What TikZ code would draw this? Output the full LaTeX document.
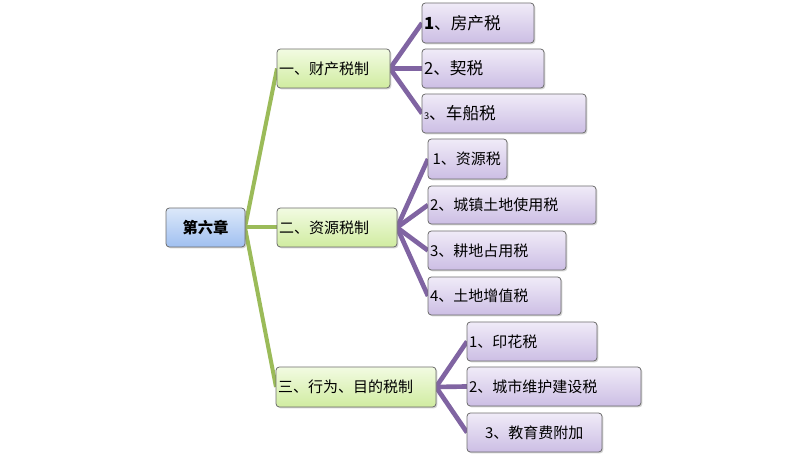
\documentclass[tikz,border=0pt]{standalone}
\usepackage{fontspec}
\setmainfont{Noto Sans CJK SC}
\usetikzlibrary{shadows,backgrounds}
\definecolor{grn}{RGB}{155,187,89}
\definecolor{prp}{RGB}{128,100,162}
\definecolor{bordergray}{RGB}{110,110,110}
\tikzset{
  basebox/.style={draw=bordergray, line width=0.6pt, rounded corners=2.5pt,
    anchor=north west, inner xsep=1.5pt, inner ysep=0pt, outer sep=0pt,
    minimum height=29.25pt, align=left,
    font=\fontsize{11.25}{13}\selectfont,
    drop shadow={opacity=0.35, shadow xshift=1pt, shadow yshift=-1pt, fill=gray}},
  rootbox/.style={basebox, top color={rgb,255:red,220;green,232;blue,250}, bottom color={rgb,255:red,160;green,192;blue,240}, align=center},
  lonebox/.style={basebox, top color={rgb,255:red,242;green,251;blue,226}, bottom color={rgb,255:red,208;green,236;blue,160}},
  ltwobox/.style={basebox, top color={rgb,255:red,240;green,235;blue,248}, bottom color={rgb,255:red,204;green,190;blue,228}},
  bigtext/.style={font=\fontsize{12.5}{14}\selectfont},
  gline/.style={draw=grn, line width=3pt},
  pline/.style={draw=prp, line width=3.5pt}
}
\begin{document}
\begin{tikzpicture}[x=0.75pt,y=-0.75pt]
\useasboundingbox (0,0) rectangle (807,463);
% root
\node[rootbox, minimum width=59.25pt, text width=56.25pt, font=\fontsize{11.5}{13}\selectfont\bfseries] (root) at (166,208) {第六章};
% level 1
\node[lonebox, text width=81.75pt] (A) at (277,49) {一、财产税制};
\node[lonebox, text width=87pt] (B) at (277,208) {二、资源税制};
\node[lonebox, text width=117pt, minimum height=30pt] (C) at (276,367) {三、行为、目的税制};
% level 2, group A
\node[ltwobox, bigtext, text width=81pt, minimum height=30pt] (A1) at (422,3) {{\bfseries 1}、房产税};
\node[ltwobox, bigtext, text width=88.5pt] (A2) at (422,49) {2、契税};
\node[ltwobox, bigtext, text width=120pt] (A3) at (422,94) {{\fontsize{7}{8}\selectfont 3}、车船税};
% group B
\node[ltwobox, text width=56.25pt, minimum height=30pt] (B1) at (428,139) {\hspace{2pt}1、资源税};
\node[ltwobox, text width=123pt, minimum height=28.5pt] (B2) at (428,186) {2、城镇土地使用税};
\node[ltwobox, text width=100.5pt] (B3) at (428,231) {3、耕地占用税};
\node[ltwobox, text width=96.75pt, minimum height=28.5pt] (B4) at (428,277) {4、土地增值税};
% group C
\node[ltwobox, text width=94.5pt] (C1) at (467,322) {1、印花税};
\node[ltwobox, text width=127.5pt] (C2) at (467,367) {2、城市维护建设税};
\node[ltwobox, text width=98.25pt] (C3) at (467,413) {\hspace{12pt}3、教育费附加};
% connectors
\begin{scope}[on background layer]
\foreach \t in {A,B,C} \draw[gline] (root.east) -- (\t.west);
\foreach \t in {A1,A2,A3} \draw[pline] (A.east) -- (\t.west);
\foreach \t in {B1,B2,B3,B4} \draw[pline] (B.east) -- (\t.west);
\foreach \t in {C1,C2,C3} \draw[pline] (C.east) -- (\t.west);
\end{scope}
\end{tikzpicture}
\end{document}
